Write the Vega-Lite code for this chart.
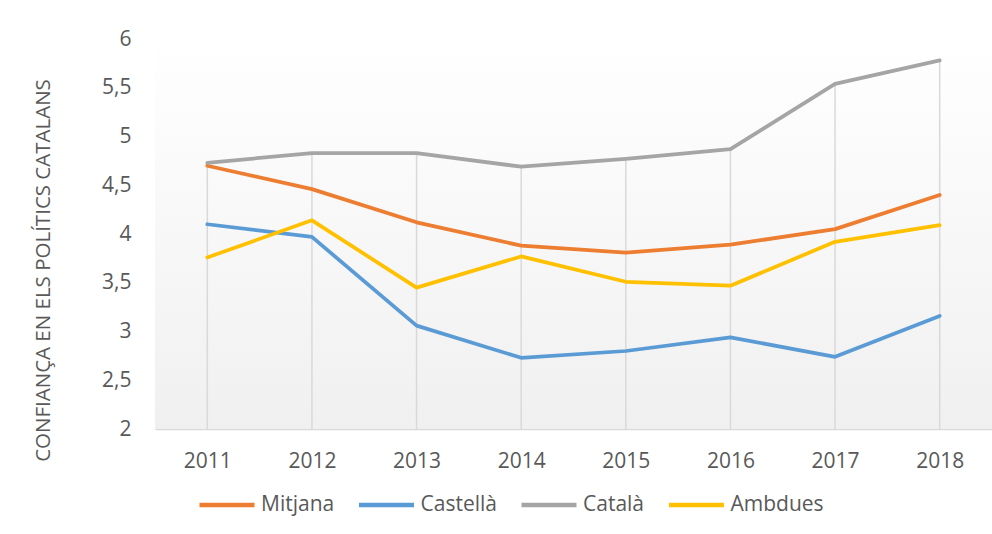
{
  "$schema": "https://vega.github.io/schema/vega-lite/v6.json",
  "width": 837,
  "height": 390,
  "autosize": "none",
  "padding": {"left": 155, "top": 39, "right": 0, "bottom": 105},
  "background": "white",
  "config": {
    "view": {"stroke": null},
    "font": "Open Sans"
  },
  "datasets": {
    "series": [
      {"year": "2011", "serie": "Mitjana", "value": 4.70},
      {"year": "2012", "serie": "Mitjana", "value": 4.46},
      {"year": "2013", "serie": "Mitjana", "value": 4.12},
      {"year": "2014", "serie": "Mitjana", "value": 3.88},
      {"year": "2015", "serie": "Mitjana", "value": 3.81},
      {"year": "2016", "serie": "Mitjana", "value": 3.89},
      {"year": "2017", "serie": "Mitjana", "value": 4.05},
      {"year": "2018", "serie": "Mitjana", "value": 4.40},
      {"year": "2011", "serie": "Castellà", "value": 4.10},
      {"year": "2012", "serie": "Castellà", "value": 3.97},
      {"year": "2013", "serie": "Castellà", "value": 3.06},
      {"year": "2014", "serie": "Castellà", "value": 2.73},
      {"year": "2015", "serie": "Castellà", "value": 2.80},
      {"year": "2016", "serie": "Castellà", "value": 2.94},
      {"year": "2017", "serie": "Castellà", "value": 2.74},
      {"year": "2018", "serie": "Castellà", "value": 3.16},
      {"year": "2011", "serie": "Català", "value": 4.73},
      {"year": "2012", "serie": "Català", "value": 4.83},
      {"year": "2013", "serie": "Català", "value": 4.83},
      {"year": "2014", "serie": "Català", "value": 4.69},
      {"year": "2015", "serie": "Català", "value": 4.77},
      {"year": "2016", "serie": "Català", "value": 4.87},
      {"year": "2017", "serie": "Català", "value": 5.54},
      {"year": "2018", "serie": "Català", "value": 5.78},
      {"year": "2011", "serie": "Ambdues", "value": 3.76},
      {"year": "2012", "serie": "Ambdues", "value": 4.14},
      {"year": "2013", "serie": "Ambdues", "value": 3.45},
      {"year": "2014", "serie": "Ambdues", "value": 3.77},
      {"year": "2015", "serie": "Ambdues", "value": 3.51},
      {"year": "2016", "serie": "Ambdues", "value": 3.47},
      {"year": "2017", "serie": "Ambdues", "value": 3.92},
      {"year": "2018", "serie": "Ambdues", "value": 4.09}
    ]
  },
  "layer": [
    {
      "data": {"values": [{"bg": 1}]},
      "mark": {
        "type": "rect",
        "color": {
          "gradient": "linear",
          "x1": 0, "y1": 0, "x2": 0, "y2": 1,
          "stops": [
            {"offset": 0, "color": "#ffffff"},
            {"offset": 1, "color": "#f0f0f0"}
          ]
        }
      },
      "encoding": {
        "y": {"datum": 6, "type": "quantitative"},
        "y2": {"datum": 2}
      }
    },
    {
      "data": {"name": "series"},
      "transform": [{"filter": "datum.serie === 'Català'"}],
      "mark": {"type": "rule", "color": "#d9d9d9", "strokeWidth": 1.5},
      "encoding": {
        "x": {"field": "year", "type": "ordinal"},
        "y": {"field": "value", "type": "quantitative"},
        "y2": {"datum": 2}
      }
    },
    {
      "data": {"name": "series"},
      "mark": {"type": "line", "strokeWidth": 3.75, "strokeCap": "round", "strokeJoin": "round"},
      "encoding": {
        "x": {
          "field": "year",
          "type": "ordinal",
          "scale": {"type": "point", "padding": 0.5},
          "axis": {
            "title": null,
            "domainColor": "#d9d9d9",
            "domainWidth": 1.5,
            "ticks": false,
            "labelAngle": 0,
            "labelAlign": "center",
            "labelBaseline": "top",
            "labelFontSize": 21,
            "labelColor": "#595959",
            "labelPadding": 21
          }
        },
        "y": {
          "field": "value",
          "type": "quantitative",
          "scale": {"domain": [2, 6], "nice": false, "zero": false},
          "axis": {
            "values": [2, 2.5, 3, 3.5, 4, 4.5, 5, 5.5, 6],
            "format": ".1~f",
            "labelExpr": "replace(datum.label, '.', ',')",
            "domain": false,
            "ticks": false,
            "grid": false,
            "labelFontSize": 21,
            "labelColor": "#595959",
            "labelPadding": 24,
            "title": "CONFIANÇA EN ELS POLÍTICS CATALANS",
            "titleFontSize": 20.5,
            "titleFontWeight": "normal",
            "titleColor": "#595959",
            "titleX": -112,
            "titleY": 231,
            "titleAngle": 270,
            "titleAlign": "center",
            "titleBaseline": "middle"
          }
        },
        "color": {
          "field": "serie",
          "type": "nominal",
          "scale": {
            "domain": ["Mitjana", "Castellà", "Català", "Ambdues"],
            "range": ["#ED7D31", "#5B9BD5", "#A5A5A5", "#FFC000"]
          },
          "legend": {
            "title": null,
            "orient": "none",
            "direction": "horizontal",
            "legendX": 42,
            "legendY": 436,
            "symbolType": "stroke",
            "symbolSize": 3025,
            "symbolStrokeWidth": 4.5,
            "labelFontSize": 21,
            "labelColor": "#595959",
            "labelOffset": 4,
            "columnPadding": 14.5
          }
        }
      }
    }
  ]
}
